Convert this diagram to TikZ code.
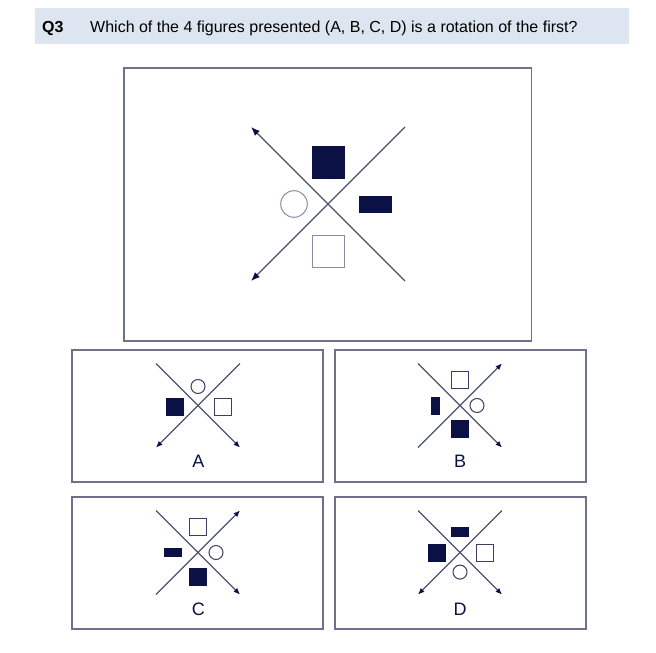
\documentclass[tikz,border=0pt]{standalone}
\usepackage{fontspec}
\setmainfont{Liberation Sans}
\usetikzlibrary{arrows.meta}
\definecolor{navy}{HTML}{0B1045}
\definecolor{axisgray}{HTML}{50536F}
\definecolor{framegray}{HTML}{6E7189}
\definecolor{bandblue}{HTML}{DCE5F0}
\definecolor{holegray}{HTML}{8A8CA2}
\definecolor{holedark}{HTML}{3C3F62}

\begin{document}
\begin{tikzpicture}[x=1pt,y=-1pt,
  frame/.style={draw=framegray,line width=1.3pt},
  axis/.style={draw=axisgray,line width=1.1pt},
  bigtip/.style={-{Latex[length=9pt,width=7pt,color=navy]}},
  smalltip/.style={-{Latex[length=6.5pt,width=5.5pt,color=navy]}},
  full/.style={fill=navy,draw=navy},
  hole/.style={draw=holegray,line width=1pt,fill=white},
  smallhole/.style={draw=holedark,line width=1pt,fill=white},
  lab/.style={font=\fontsize{18}{18}\selectfont,text=navy}]
\useasboundingbox[fill=white] (0,0) rectangle (656,653);
% Question band
\fill[bandblue] (35,8.3) rectangle (629.3,44.3);
\node[anchor=base west,inner sep=0,font=\fontsize{16}{16}\selectfont\bfseries] (qnum) at (42,32.3) {Q3};
\node[anchor=base west,inner sep=0,font=\fontsize{16}{16}\selectfont] (qtext) at (90,32.3) {Which of the 4 figures presented (A, B, C, D) is a rotation of the first?};
% First figure
\draw[frame] (124,68) rectangle (531.5,341);
\begin{scope}[shift={(328,204)}]
\draw[axis,bigtip] (77,77) -- (-77,-77);
\draw[axis,bigtip] (77,-77) -- (-77,77);
\draw[full] (-16,-58) rectangle (16,-26);
\draw[full] (31,-8) rectangle (63,8);
\draw[hole] (-34,0) circle (13.3pt);
\draw[hole] (-16,31) rectangle (16,63);
\end{scope}
% A
\draw[frame] (72,350) rectangle (323,482);
\begin{scope}[shift={(198,405.5)}]
\draw[axis,smalltip] (-42,-42) -- (42,42);
\draw[axis,smalltip] (42,-42) -- (-42,42);
\draw[smallhole] (0,-19) circle (7pt);
\draw[full] (-31.5,-7.5) rectangle (-14.5,9.5);
\draw[smallhole] (16,-7.5) rectangle (33,9.5);
\end{scope}
\node[lab] (labA) at (198.3,461.7) {A};
% B
\draw[frame] (335,350) rectangle (586,482);
\begin{scope}[shift={(460,405.5)}]
\draw[axis,smalltip] (-42,-42) -- (42,42);
\draw[axis,smalltip] (-42,42) -- (42,-42);
\draw[smallhole] (-8.5,-34.5) rectangle (8.5,-17.5);
\draw[smallhole] (17,0) circle (7pt);
\draw[full] (-8.5,15) rectangle (8.5,32);
\draw[full] (-29.3,-8.5) rectangle (-20.7,8.5);
\end{scope}
\node[lab] (labB) at (460,461.7) {B};
% C
\draw[frame] (72,497) rectangle (323,629);
\begin{scope}[shift={(198,552.5)}]
\draw[axis,smalltip] (-42,-42) -- (42,42);
\draw[axis,smalltip] (-42,42) -- (42,-42);
\draw[smallhole] (-8.5,-34) rectangle (8.5,-17);
\draw[smallhole] (18,0) circle (7pt);
\draw[full] (-8.5,15.5) rectangle (8.5,32.5);
\draw[full] (-33.5,-4) rectangle (-16.5,4);
\end{scope}
\node[lab] (labC) at (198.3,609) {C};
% D
\draw[frame] (335,497) rectangle (586,629);
\begin{scope}[shift={(460,552.5)}]
\draw[axis,smalltip] (-42,-42) -- (42,42);
\draw[axis,smalltip] (42,-42) -- (-42,42);
\draw[full] (-8.5,-25) rectangle (8.5,-16.5);
\draw[full] (-31.5,-8.5) rectangle (-14.5,8.5);
\draw[smallhole] (16.5,-8.5) rectangle (33.5,8.5);
\draw[smallhole] (0,19.6) circle (7pt);
\end{scope}
\node[lab] (labD) at (460,609) {D};
\end{tikzpicture}
\end{document}
